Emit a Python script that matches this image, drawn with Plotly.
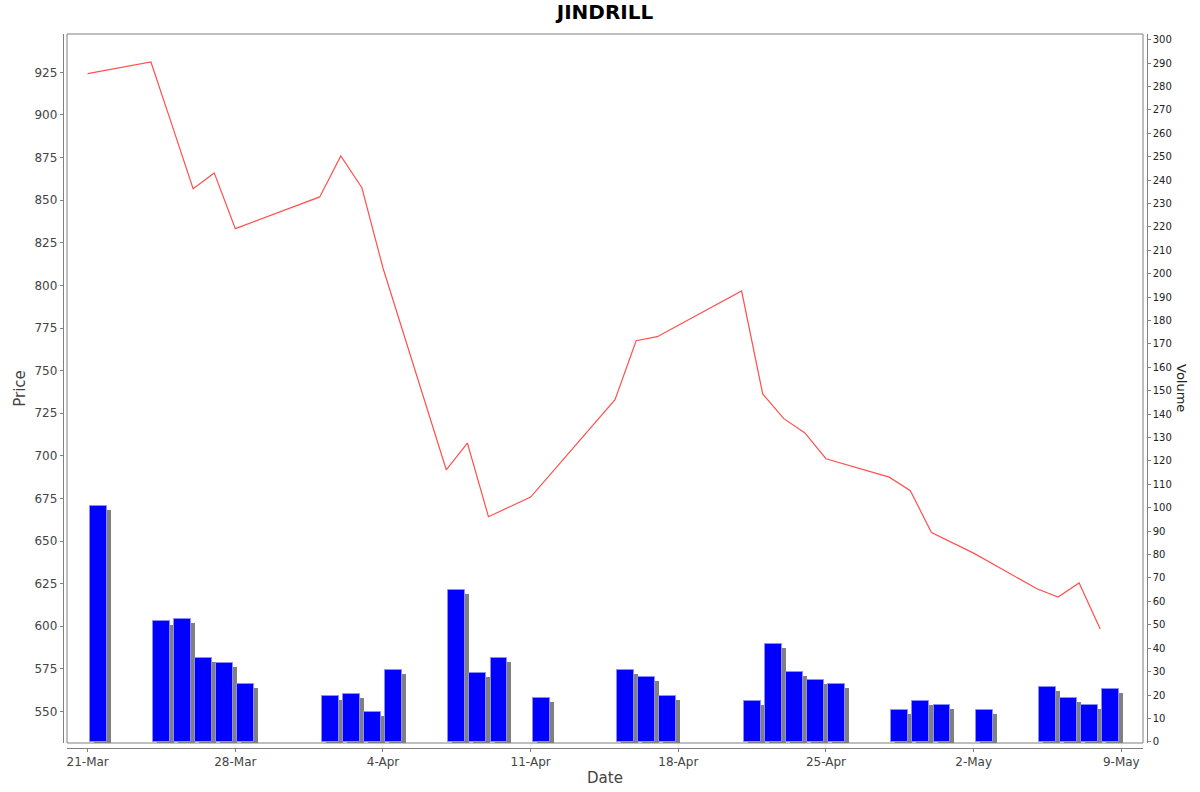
import pandas as pd
import plotly.graph_objects as go

# trading days, closing price and volume
trade_dates = ["2025-03-21", "2025-03-24", "2025-03-25", "2025-03-26", "2025-03-27",
               "2025-03-28", "2025-04-01", "2025-04-02", "2025-04-03", "2025-04-04",
               "2025-04-07", "2025-04-08", "2025-04-09", "2025-04-11", "2025-04-15",
               "2025-04-16", "2025-04-17", "2025-04-21", "2025-04-22", "2025-04-23",
               "2025-04-24", "2025-04-25", "2025-04-28", "2025-04-29", "2025-04-30",
               "2025-05-02", "2025-05-05", "2025-05-06", "2025-05-07", "2025-05-08"]
close_price = [924.2, 931.1, 894.0, 856.7, 866.0, 833.3, 851.9, 875.9, 857.3, 810.2,
               691.8, 707.5, 664.3, 675.8, 733.0, 767.5, 769.9, 796.7, 736.3, 721.8,
               713.4, 698.3, 687.5, 679.5, 655.0, 642.9, 622.0, 617.1, 625.4, 598.4]
volume = [100.7, 51.7, 52.6, 35.8, 33.6, 24.6, 19.7, 20.6, 12.7, 30.8,
          64.7, 29.6, 35.8, 18.8, 30.6, 27.6, 19.7, 17.6, 41.7, 29.8,
          26.6, 24.6, 13.7, 17.6, 15.8, 13.7, 23.6, 18.7, 15.8, 22.6]

DAY = 86400000
FONT = "DejaVu Sans"
GREY = "#808080"

dates = pd.to_datetime(trade_dates)
bar_x = dates + pd.Timedelta(hours=12)

# paper geometry (px): plot area 67..1143 x 34..743
W, H = 1200, 792
ml, mr, mt, mb = 50, 40, 34, 30
pw, ph = W - ml - mr, H - mt - mb
def px_x(v):
    return (v - ml) / pw
def px_y(v):
    return (H - mb - v) / ph

x_dom = [px_x(67), px_x(1143)]
y_dom = [px_y(743), 1.0]

fig = go.Figure()

# shadow of the volume bars (4px right / 4px down)
fig.add_trace(go.Bar(
    x=bar_x, y=volume, base=-1.7, width=0.8 * DAY, offset=-0.21 * DAY,
    marker=dict(color=GREY, line=dict(width=0)), yaxis="y2", showlegend=False,
    hoverinfo="skip"))
fig.add_trace(go.Bar(
    x=bar_x, y=volume, width=0.8 * DAY, offset=-0.4 * DAY,
    marker=dict(color="#0000ff", line=dict(color="#8c8cff", width=1)),
    yaxis="y2", showlegend=False, name="Volume"))
fig.add_trace(go.Scatter(
    x=dates, y=close_price, mode="lines", line=dict(color="#ff5050", width=1.2),
    yaxis="y", showlegend=False, name="Price"))

tick_font = dict(family=FONT, size=12, color="#444444")
title_font = dict(family=FONT, size=15, color="#444444")

fig.update_layout(
    width=W, height=H,
    margin=dict(l=ml, r=mr, t=mt, b=mb, autoexpand=False),
    paper_bgcolor="white", plot_bgcolor="white",
    barmode="overlay", bargap=0,
    title=dict(text="<b>JINDRILL</b>", x=0.5, xref="paper", y=1 - 12 / H,
               yanchor="middle", font=dict(family=FONT, size=20, color="black")),
    xaxis=dict(
        domain=x_dom, anchor="free", position=px_y(747.5), automargin=False,
        type="date", range=["2025-03-20 00:30", "2025-05-10 00:40"],
        tick0="2025-03-21", dtick=7 * DAY, tickformat="%-d-%b",
        showgrid=False, zeroline=False, showline=True, linecolor=GREY, linewidth=1,
        ticks="outside", ticklen=3, tickcolor=GREY, tickfont=tick_font,
        title=dict(text="Date", font=title_font, standoff=4)),
    yaxis=dict(
        domain=y_dom, anchor="free", position=px_x(62.7), automargin=False,
        range=[531.5, 947.5], tick0=550, dtick=25,
        showgrid=False, zeroline=False, showline=True, linecolor=GREY, linewidth=1,
        ticks="outside", ticklen=3, tickcolor=GREY, tickfont=tick_font,
        title=dict(text="Price", font=title_font, standoff=4)),
    yaxis2=dict(
        domain=y_dom, overlaying="y", side="right", anchor="free",
        position=px_x(1146.7), automargin=False,
        range=[-0.5, 302.4], tick0=0, dtick=10,
        showgrid=False, zeroline=False, showline=True, linecolor=GREY, linewidth=1,
        ticks="outside", ticklen=3, tickcolor=GREY,
        tickfont=dict(family=FONT, size=10, color="#222222")),
    shapes=[dict(type="rect", xref="paper", yref="paper",
                 x0=x_dom[0], x1=x_dom[1], y0=y_dom[0], y1=y_dom[1],
                 line=dict(color=GREY, width=1), fillcolor="rgba(0,0,0,0)",
                 layer="above")],
    annotations=[dict(text="Volume", textangle=90, xref="paper", yref="paper",
                      x=px_x(1182), y=px_y(388), xanchor="center", yanchor="middle",
                      showarrow=False, font=dict(family=FONT, size=13, color="#222222"))],
)

# the page's default body margin would push the figure 8px right and down
fig.write_html("out.html", config={"displayModeBar": False},
               post_script="document.body.style.margin = '0';")
